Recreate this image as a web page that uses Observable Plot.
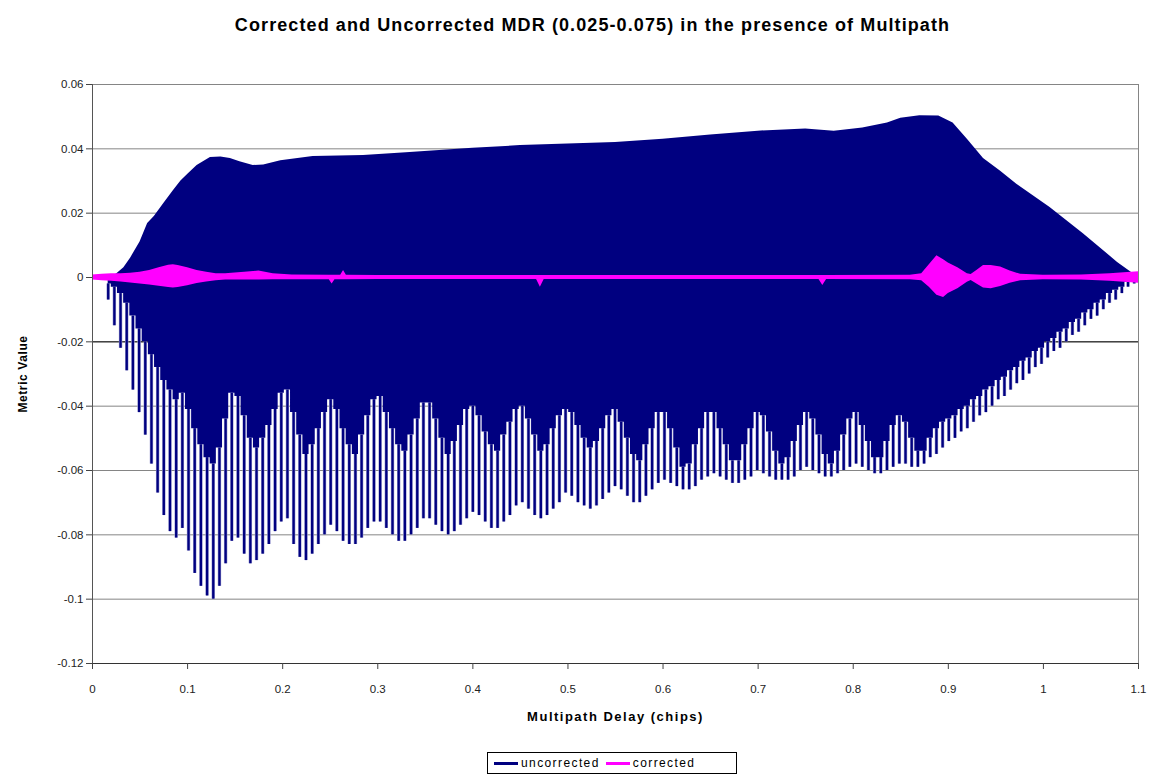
<!DOCTYPE html>
<html><head><meta charset="utf-8">
<script src="https://cdn.jsdelivr.net/npm/d3@7"></script>
<script src="https://cdn.jsdelivr.net/npm/@observablehq/plot@0.6"></script>
<style>
body{margin:0;background:#fff;font-family:"Liberation Sans",Arial,sans-serif;}
#title{height:50px;line-height:50px;text-align:center;font-weight:bold;font-size:18px;letter-spacing:1.1px;padding-left:30px;color:#000;white-space:nowrap;}
#chart svg [aria-label="x-axis label"] text{font-weight:bold;font-size:13px;fill:#000;letter-spacing:1.5px;}
#chart svg [aria-label="y-axis label"] text{font-weight:bold;font-size:12px;fill:#000;letter-spacing:0.6px;}
#legend{margin-left:487px;margin-top:7px;width:248px;height:20px;border:1px solid #000;display:flex;align-items:center;font-size:12px;letter-spacing:1.4px;color:#000;box-sizing:content-box;}
.sw{display:inline-block;width:24px;height:3px;margin:0 3px 0 6px;}
</style></head><body>
<div id="title">Corrected and Uncorrected MDR (0.025-0.075) in the presence of Multipath</div>
<div id="chart"></div>
<div id="legend"><span class="sw" style="background:#000080"></span><span>uncorrected</span><span class="sw" style="background:#ff00ff"></span><span>corrected</span></div>
<script>
// tick labels
const xTicks = [0, 0.1, 0.2, 0.3, 0.4, 0.5, 0.6, 0.7, 0.8, 0.9, 1, 1.1];
const yTicks = [0.06, 0.04, 0.02, 0, -0.02, -0.04, -0.06, -0.08, -0.1, -0.12];

// uncorrected: upper envelope
const upperDelay = [0, 0.015, 0.025, 0.033, 0.04, 0.05, 0.058, 0.065, 0.075, 0.085, 0.093, 0.1, 0.11, 0.124, 0.135, 0.145, 0.155, 0.169, 0.18, 0.198, 0.232, 0.285, 0.33, 0.4, 0.45, 0.5, 0.55, 0.6, 0.65, 0.7, 0.75, 0.78, 0.81, 0.836, 0.85, 0.87, 0.89, 0.905, 0.92, 0.937, 0.955, 0.972, 1.007, 1.042, 1.078, 1.1];
const upperValue = [0, 0.0003, 0.001, 0.003, 0.006, 0.011, 0.0168, 0.019, 0.023, 0.027, 0.03, 0.032, 0.0348, 0.0373, 0.0375, 0.037, 0.036, 0.0348, 0.035, 0.0363, 0.0376, 0.0379, 0.0388, 0.0402, 0.041, 0.0415, 0.042, 0.043, 0.0443, 0.0455, 0.0462, 0.0455, 0.0465, 0.048, 0.0495, 0.0503, 0.0502, 0.048, 0.043, 0.037, 0.033, 0.029, 0.0218, 0.0136, 0.0047, 0];

// uncorrected: lower spikes (delay, spike minimum, lower edge of the solid body)
const spikeDelay = [
0.0165, 0.023, 0.0295, 0.036, 0.0425, 0.049, 0.0555, 0.062, 0.0685, 0.075,
0.0815, 0.088, 0.0945, 0.101, 0.1075, 0.114, 0.1205, 0.127, 0.1335, 0.14,
0.1465, 0.153, 0.1595, 0.166, 0.1725, 0.179, 0.1855, 0.192, 0.1985, 0.205,
0.2115, 0.218, 0.2245, 0.231, 0.2375, 0.244, 0.2505, 0.257, 0.2635, 0.27,
0.2765, 0.283, 0.2895, 0.296, 0.3025, 0.309, 0.3155, 0.322, 0.3285, 0.335,
0.3415, 0.348, 0.3545, 0.361, 0.3675, 0.374, 0.3805, 0.387, 0.3935, 0.4,
0.4065, 0.413, 0.4195, 0.426, 0.4325, 0.439, 0.4455, 0.452, 0.4585, 0.465,
0.4715, 0.478, 0.4845, 0.491, 0.4975, 0.504, 0.5105, 0.517, 0.5235, 0.53,
0.5365, 0.543, 0.5495, 0.556, 0.5625, 0.569, 0.5755, 0.582, 0.5885, 0.595,
0.6015, 0.608, 0.6145, 0.621, 0.6275, 0.634, 0.6405, 0.647, 0.6535, 0.66,
0.6665, 0.673, 0.6795, 0.686, 0.6925, 0.699, 0.7055, 0.712, 0.7185, 0.725,
0.7315, 0.738, 0.7445, 0.751, 0.7575, 0.764, 0.7705, 0.777, 0.7835, 0.79,
0.7965, 0.803, 0.8095, 0.816, 0.8225, 0.829, 0.8355, 0.842, 0.8485, 0.855,
0.8615, 0.868, 0.8745, 0.881, 0.8875, 0.894, 0.9005, 0.907, 0.9135, 0.92,
0.9265, 0.933, 0.9395, 0.946, 0.9525, 0.959, 0.9655, 0.972, 0.9785, 0.985,
0.9915, 0.998, 1.0045, 1.011, 1.0175, 1.024, 1.0305, 1.037, 1.0435, 1.05,
1.0565, 1.063, 1.0695, 1.076, 1.0825, 1.089, 1.0955];
const spikeMin = [
-0.007, -0.015, -0.022, -0.029, -0.035, -0.042, -0.049, -0.058, -0.067, -0.074,
-0.079, -0.081, -0.078, -0.085, -0.092, -0.096, -0.099, -0.1, -0.096, -0.089,
-0.082, -0.081, -0.086, -0.089, -0.088, -0.086, -0.083, -0.079, -0.076, -0.075,
-0.083, -0.087, -0.088, -0.086, -0.083, -0.08, -0.077, -0.079, -0.082, -0.083,
-0.083, -0.081, -0.078, -0.076, -0.076, -0.078, -0.08, -0.082, -0.082, -0.08,
-0.078, -0.075, -0.075, -0.077, -0.079, -0.08, -0.079, -0.077, -0.075, -0.073,
-0.074, -0.076, -0.078, -0.078, -0.076, -0.074, -0.071, -0.07, -0.072, -0.074,
-0.075, -0.074, -0.072, -0.07, -0.067, -0.068, -0.07, -0.071, -0.072, -0.071,
-0.069, -0.067, -0.065, -0.066, -0.068, -0.07, -0.07, -0.068, -0.066, -0.064,
-0.063, -0.064, -0.065, -0.066, -0.066, -0.065, -0.063, -0.062, -0.061, -0.062,
-0.063, -0.064, -0.064, -0.063, -0.062, -0.06, -0.061, -0.062, -0.063, -0.063,
-0.063, -0.062, -0.06, -0.059, -0.06, -0.061, -0.062, -0.062, -0.061, -0.06,
-0.059, -0.058, -0.059, -0.06, -0.061, -0.061, -0.06, -0.059, -0.058, -0.058,
-0.059, -0.059, -0.058, -0.056, -0.055, -0.053, -0.051, -0.05, -0.048, -0.047,
-0.045, -0.043, -0.042, -0.04, -0.038, -0.037, -0.035, -0.033, -0.032, -0.03,
-0.028, -0.027, -0.025, -0.023, -0.022, -0.02, -0.018, -0.017, -0.015, -0.013,
-0.012, -0.01, -0.008, -0.007, -0.005, -0.003, -0.002];
const spikeBody = [
-0.002, -0.003, -0.005, -0.008, -0.012, -0.016, -0.02, -0.024, -0.028, -0.032,
-0.035, -0.038, -0.036, -0.041, -0.047, -0.052, -0.056, -0.058, -0.053, -0.044,
-0.036, -0.037, -0.043, -0.05, -0.053, -0.05, -0.046, -0.041, -0.036, -0.035,
-0.042, -0.049, -0.055, -0.052, -0.047, -0.042, -0.038, -0.041, -0.047, -0.052,
-0.055, -0.049, -0.043, -0.038, -0.037, -0.042, -0.047, -0.052, -0.054, -0.049,
-0.044, -0.039, -0.039, -0.044, -0.05, -0.055, -0.051, -0.046, -0.041, -0.04,
-0.043, -0.048, -0.052, -0.054, -0.049, -0.045, -0.041, -0.04, -0.044, -0.049,
-0.054, -0.052, -0.047, -0.043, -0.041, -0.042, -0.046, -0.05, -0.053, -0.051,
-0.047, -0.043, -0.041, -0.045, -0.05, -0.055, -0.057, -0.052, -0.047, -0.042,
-0.042, -0.047, -0.053, -0.059, -0.058, -0.052, -0.047, -0.042, -0.042, -0.047,
-0.052, -0.057, -0.057, -0.052, -0.047, -0.042, -0.043, -0.048, -0.054, -0.058,
-0.056, -0.051, -0.046, -0.042, -0.044, -0.049, -0.055, -0.058, -0.054, -0.049,
-0.044, -0.042, -0.046, -0.051, -0.056, -0.056, -0.051, -0.046, -0.043, -0.045,
-0.05, -0.054, -0.054, -0.05, -0.047, -0.045, -0.044, -0.043, -0.041, -0.04,
-0.038, -0.037, -0.035, -0.034, -0.032, -0.031, -0.029, -0.028, -0.026, -0.025,
-0.023, -0.022, -0.02, -0.019, -0.017, -0.016, -0.014, -0.013, -0.011, -0.01,
-0.008, -0.007, -0.005, -0.004, -0.003, -0.0015, -0.0005];

// corrected series: band (upper / lower extent)
const corrDelay = [0, 0.01, 0.02, 0.03, 0.04, 0.05, 0.06, 0.07, 0.08, 0.085, 0.09, 0.1, 0.11, 0.12, 0.13, 0.14, 0.16, 0.175, 0.19, 0.21, 0.249, 0.252, 0.255, 0.261, 0.264, 0.267, 0.3, 0.4, 0.467, 0.471, 0.475, 0.6, 0.764, 0.768, 0.772, 0.86, 0.872, 0.88, 0.888, 0.895, 0.9, 0.91, 0.92, 0.924, 0.93, 0.937, 0.945, 0.955, 0.965, 0.976, 1.0, 1.04, 1.07, 1.1];
const corrHigh = [0.0008, 0.001, 0.0012, 0.0012, 0.0013, 0.0016, 0.0022, 0.003, 0.0038, 0.004, 0.0037, 0.003, 0.0022, 0.0016, 0.0012, 0.0012, 0.0016, 0.002, 0.0012, 0.0008, 0.0007, 0.0007, 0.0007, 0.0007, 0.0022, 0.0007, 0.0006, 0.0006, 0.0006, 0.0006, 0.0006, 0.0006, 0.0006, 0.0006, 0.0006, 0.0007, 0.0012, 0.004, 0.0068, 0.0055, 0.0045, 0.003, 0.0012, 0.0009, 0.0022, 0.0037, 0.0037, 0.0033, 0.002, 0.001, 0.0007, 0.0008, 0.0012, 0.0018];
const corrLow = [-0.0008, -0.001, -0.0012, -0.0014, -0.0017, -0.002, -0.0023, -0.0027, -0.0031, -0.0033, -0.0031, -0.0026, -0.0019, -0.0014, -0.001, -0.0008, -0.0008, -0.0008, -0.0007, -0.0007, -0.0007, -0.002, -0.0007, -0.0007, -0.0007, -0.0007, -0.0006, -0.0006, -0.0006, -0.003, -0.0006, -0.0006, -0.0006, -0.0025, -0.0006, -0.0007, -0.001, -0.003, -0.0055, -0.0062, -0.005, -0.0035, -0.0015, -0.0009, -0.002, -0.0033, -0.0035, -0.0028, -0.0018, -0.001, -0.0007, -0.0008, -0.0012, -0.0018];

const NAVY = "#000080", PALE = "#9c9cd0", MAGENTA = "#ff00ff";
const upper = upperDelay.map((d, i) => ({delay: d, value: upperValue[i]}));
const spikes = spikeDelay.map((d, i) => ({delay: d, min: spikeMin[i], body: spikeBody[i]}));
const corrected = corrDelay.map((d, i) => ({delay: d, high: corrHigh[i], low: corrLow[i]}));
const fmt = d => String(+d.toFixed(3));

const chart = Plot.plot({
  width: 1155, height: 695,
  marginTop: 34, marginBottom: 82, marginLeft: 92, marginRight: 17,
  style: {fontFamily: "'Liberation Sans', Arial, sans-serif", fontSize: "11.5px", color: "#222", background: "#fff"},
  x: {domain: [0, 1.1]},
  y: {domain: [-0.12, 0.06]},
  marks: [
    Plot.ruleY(yTicks, {stroke: "#858585", strokeWidth: 1}),
    Plot.ruleY([-0.02], {stroke: "#111", strokeWidth: 1}),
    Plot.areaY(upper, {x: "delay", y1: 0, y2: "value", fill: NAVY}),
    Plot.ruleX(spikes, {x: "delay", y1: "body", y2: "min", stroke: PALE, strokeWidth: 3.4}),
    Plot.areaY(spikes, {x: "delay", y1: 0, y2: "body", fill: NAVY, curve: "step"}),
    Plot.ruleX(spikes, {x: "delay", y1: "body", y2: "min", stroke: NAVY, strokeWidth: 2.3}),
    Plot.areaY(corrected, {x: "delay", y1: "low", y2: "high", fill: MAGENTA}),
    Plot.ruleX([1.1], {stroke: "#858585"}),
    Plot.ruleX([0], {stroke: "#555"}),
    Plot.ruleY([-0.12], {stroke: "#333"}),
    Plot.axisX({ticks: xTicks, tickFormat: fmt, tickSize: 6, tickPadding: 15, stroke: "#444",
      label: "Multipath Delay (chips)", labelAnchor: "center", labelArrow: "none", labelOffset: 57}),
    Plot.axisY({ticks: yTicks, tickFormat: fmt, tickSize: 6, tickPadding: 3, stroke: "#444",
      label: "Metric Value", labelAnchor: "center", labelArrow: "none", labelOffset: 74})
  ]
});
document.getElementById("chart").appendChild(chart);
</script>
</body></html>
